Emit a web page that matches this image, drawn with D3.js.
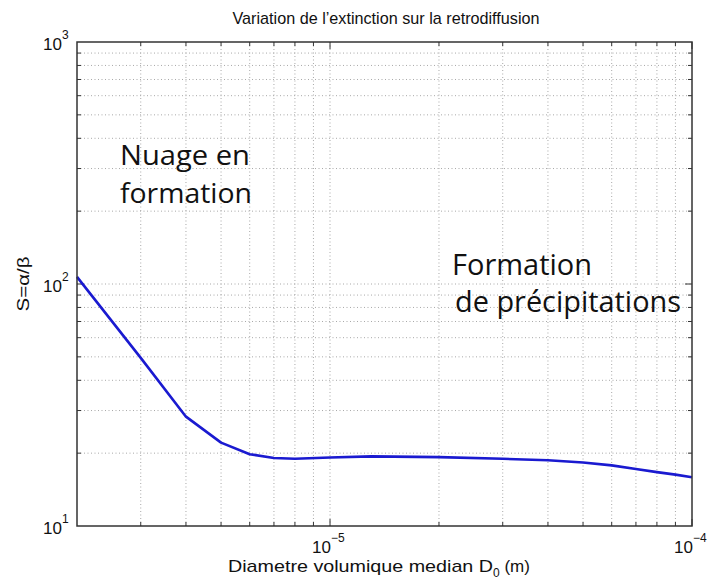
<!DOCTYPE html>
<html><head><meta charset="utf-8">
<script src="https://cdn.jsdelivr.net/npm/d3@7"></script>
<style>
body{margin:0;background:#fff;}
svg text{font-family:"Liberation Sans",Arial,sans-serif;}
</style></head>
<body>
<script>
const diameters = [2e-6, 3e-6, 4e-6, 5e-6, 6e-6, 7e-6, 8e-6, 1e-5, 1.3e-5, 2e-5, 3e-5, 4e-5, 5e-5, 6e-5, 7e-5, 8e-5, 9e-5, 1e-4];
const ratioS = [107, 49.5, 28.3, 22.1, 19.8, 19.1, 18.95, 19.2, 19.4, 19.25, 18.95, 18.7, 18.3, 17.8, 17.2, 16.7, 16.3, 15.9];
const xMajorTicks = [{v:1e-5, e:"\u22125"}, {v:1e-4, e:"\u22124"}];
const yMajorTicks = [{v:10, e:"1"}, {v:100, e:"2"}, {v:1000, e:"3"}];
const titleText = "Variation de l\u2019extinction sur la retrodiffusion";
const xLabel = "Diametre volumique median D";
const yLabel = "S=\u03b1/\u03b2";

const W = 710, H = 582;
const m = {l:77, r:18, t:42, b:56};
const svg = d3.select("body").append("svg").attr("width", W).attr("height", H);
const x = d3.scaleLog().domain([2e-6, 1e-4]).range([m.l, W - m.r]);
const y = d3.scaleLog().domain([10, 1000]).range([H - m.b, m.t]);

const xGrid = [];
[1e-6, 1e-5].forEach(d => { for (let k = 1; k <= 9; k++) { const v = d * k; if (v > 2e-6 && v < 1e-4) xGrid.push(v); } });
const yGrid = [];
[10, 100].forEach(d => { for (let k = 1; k <= 9; k++) { const v = d * k; if (v > 10 && v < 1000) yGrid.push(v); } });

const g = svg.append("g");
g.selectAll(".gx").data(xGrid).enter().append("line")
  .attr("x1", d => x(d)).attr("x2", d => x(d)).attr("y1", m.t).attr("y2", H - m.b)
  .attr("stroke", "#a8a8a8").attr("stroke-width", 1).attr("stroke-dasharray", "1,2.5");
g.selectAll(".gy").data(yGrid).enter().append("line")
  .attr("y1", d => y(d)).attr("y2", d => y(d)).attr("x1", m.l).attr("x2", W - m.r)
  .attr("stroke", "#a8a8a8").attr("stroke-width", 1).attr("stroke-dasharray", "1,2.5");

const allX = xGrid.concat([1e-4]);
const isMajX = d => xMajorTicks.some(t => Math.abs(t.v - d) / t.v < 1e-9);
g.selectAll(".tx").data(allX).enter().append("line")
  .attr("x1", d => x(d)).attr("x2", d => x(d)).attr("y1", H - m.b).attr("y2", d => H - m.b - (isMajX(d) ? 7 : 4))
  .attr("stroke", "#333");
g.selectAll(".tx2").data(allX).enter().append("line")
  .attr("x1", d => x(d)).attr("x2", d => x(d)).attr("y1", m.t).attr("y2", d => m.t + (isMajX(d) ? 7 : 4))
  .attr("stroke", "#333");
g.selectAll(".ty").data(yGrid).enter().append("line")
  .attr("y1", d => y(d)).attr("y2", d => y(d)).attr("x1", m.l).attr("x2", d => m.l + (d === 100 ? 7 : 4))
  .attr("stroke", "#333");
g.selectAll(".ty2").data(yGrid).enter().append("line")
  .attr("y1", d => y(d)).attr("y2", d => y(d)).attr("x1", W - m.r).attr("x2", d => W - m.r - (d === 100 ? 7 : 4))
  .attr("stroke", "#333");

const line = d3.line().x((d, i) => x(diameters[i])).y(d => y(d));
svg.append("path").datum(ratioS).attr("d", line)
  .attr("fill", "none").attr("stroke", "#1a1ad0").attr("stroke-width", 2.6).attr("stroke-linejoin", "round");

svg.append("rect").attr("x", m.l).attr("y", m.t).attr("width", W - m.r - m.l).attr("height", H - m.b - m.t)
  .attr("fill", "none").attr("stroke", "#333").attr("stroke-width", 1.5);

xMajorTicks.forEach(t => {
  const tx = svg.append("text").attr("x", x(t.v) - 18).attr("y", H - m.b + 27).attr("font-size", 17).attr("fill", "#111");
  tx.append("tspan").text("10");
  tx.append("tspan").attr("dy", -11).attr("font-size", 12).text(t.e);
});
yMajorTicks.forEach(t => {
  const tx = svg.append("text").attr("x", m.l - 34).attr("y", y(t.v) + 8).attr("font-size", 17).attr("fill", "#111");
  tx.append("tspan").text("10");
  tx.append("tspan").attr("dy", -11).attr("font-size", 12).text(t.e);
});

svg.append("text").attr("x", 386).attr("y", 24).attr("text-anchor", "middle").attr("font-size", 17).attr("fill", "#111")
  .attr("textLength", 307).attr("lengthAdjust", "spacingAndGlyphs").text(titleText);
const xl = svg.append("text").attr("x", 228).attr("y", 572).attr("font-size", 17).attr("fill", "#111");
xl.append("tspan").attr("textLength", 265).attr("lengthAdjust", "spacingAndGlyphs").text(xLabel);
xl.append("tspan").attr("dy", 5).attr("font-size", 12).text("0");
xl.append("tspan").attr("dy", -5).text(" (m)");
svg.append("text").attr("transform", "translate(29,284) rotate(-90)").attr("text-anchor", "middle").attr("font-size", 17).attr("fill", "#111")
  .attr("textLength", 55).attr("lengthAdjust", "spacingAndGlyphs").text(yLabel);

const ann = [
  {t:"Nuage en", x:120, y:165, w:130, fs:27},
  {t:"formation", x:120, y:203, w:132, fs:27},
  {t:"Formation", x:452, y:275, w:140, fs:29},
  {t:"de pr\u00e9cipitations", x:455, y:312, w:226, fs:29}
];
ann.forEach(a => {
  svg.append("text").attr("x", a.x).attr("y", a.y).attr("font-size", a.fs)
    .style("font-family", "'Open Sans', sans-serif").attr("fill", "#111")
    .attr("textLength", a.w).attr("lengthAdjust", "spacingAndGlyphs").text(a.t);
});
</script>
</body></html>
